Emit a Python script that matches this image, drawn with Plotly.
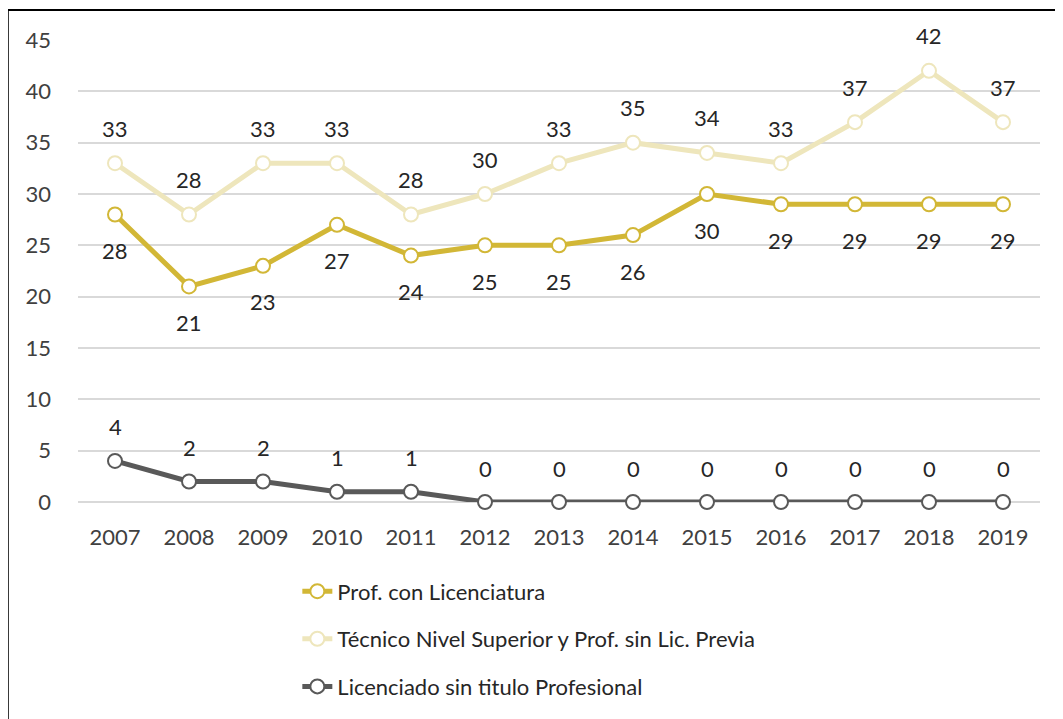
import plotly.graph_objects as go

years = ["2007", "2008", "2009", "2010", "2011", "2012", "2013",
         "2014", "2015", "2016", "2017", "2018", "2019"]
prof_lic = [28, 21, 23, 27, 24, 25, 25, 26, 30, 29, 29, 29, 29]
tecnico = [33, 28, 33, 33, 28, 30, 33, 35, 34, 33, 37, 42, 37]
lic_sin = [4, 2, 2, 1, 1, 0, 0, 0, 0, 0, 0, 0, 0]

series = [
    ("Prof. con Licenciatura", prof_lic, "#D2B736", -36),
    ("Técnico Nivel Superior y Prof. sin Lic. Previa", tecnico, "#EEE6BC", 35),
    ("Licenciado sin titulo Profesional", lic_sin, "#595959", 34),
]

FONT = "Lato, 'Open Sans', sans-serif"
FS = 22

fig = go.Figure()
annotations = []
for i, (name, vals, color, shift) in enumerate(series):
    fig.add_trace(go.Scatter(
        x=years, y=vals, name=name, mode="lines+markers",
        line=dict(color=color, width=5),
        marker=dict(size=14, color="white", line=dict(color=color, width=2)),
        cliponaxis=False,
        legendgroup=f"g{i}",
    ))
    for k, v in enumerate(vals):
        annotations.append(dict(
            x=k, y=v, text=str(v), showarrow=False, yshift=shift,
            font=dict(family=FONT, size=FS, color="#262626"),
        ))

fig.update_layout(
    width=1063, height=719,
    paper_bgcolor="white", plot_bgcolor="white",
    margin=dict(l=70, r=31, t=32, b=225),
    font=dict(family=FONT, size=FS, color="#404040"),
    annotations=annotations,
    showlegend=True,
    legend=dict(
        x=0.228, y=-0.148, xanchor="left", yanchor="top",
        orientation="v", traceorder="grouped", tracegroupgap=16,
        font=dict(family=FONT, size=FS, color="#262626"),
    ),
    shapes=[dict(
        type="rect", xref="paper", yref="paper",
        x0=-0.073, x1=1.2, y0=-0.6, y1=1.065,
        line=dict(color="black", width=2),
    )],
)
fig.update_xaxes(
    type="category", range=[-0.5, 12.5], showgrid=False, zeroline=False,
    showline=False, ticks="", ticklabelstandoff=20,
    tickfont=dict(family=FONT, size=FS, color="#404040"),
)
fig.update_yaxes(
    range=[0, 45], dtick=5, showgrid=True, gridcolor="#D9D9D9", gridwidth=2,
    zeroline=True, zerolinecolor="#D9D9D9", zerolinewidth=2,
    showline=False, ticks="", ticklabelstandoff=26,
    tickfont=dict(family=FONT, size=FS, color="#404040"),
)

fig.write_html("out.html")
